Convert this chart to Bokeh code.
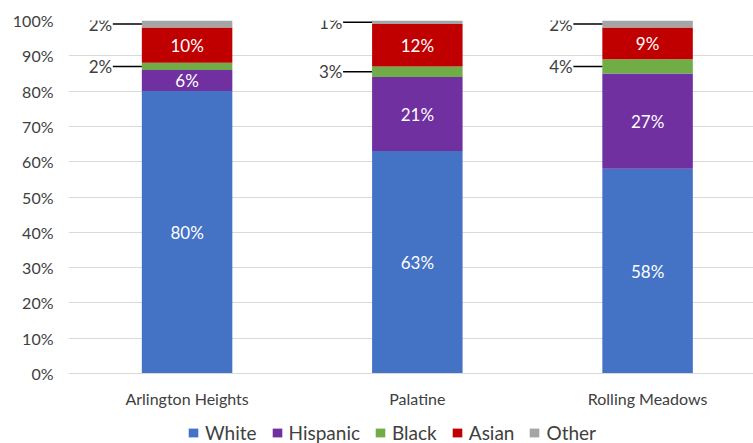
from bokeh.plotting import figure
from bokeh.models import (ColumnDataSource, Range1d, FixedTicker, Legend, LegendItem)
from bokeh.core.properties import value
from bokeh.embed import file_html
from bokeh.resources import INLINE

# Population share by race/ethnicity (%)
cities = ["Arlington Heights", "Palatine", "Rolling Meadows"]
groups = ["White", "Hispanic", "Black", "Asian", "Other"]
white = [80, 63, 58]
hispanic = [6, 21, 27]
black = [2, 3, 4]
asian = [10, 12, 9]
other = [2, 1, 2]
colors = ["#4472C4", "#7030A0", "#70AD47", "#C00000", "#A5A5A5"]
y_ticks = list(range(0, 101, 10))

FONT = "Lato"
TXT = "#404040"
BAR_W = 0.393
LEAD = 0.126

xs = list(range(len(cities)))
series = [white, hispanic, black, asian, other]
src = ColumnDataSource(dict(x=xs, **{g: v for g, v in zip(groups, series)}))

# the frame runs to the bottom edge; the space under 0% holds city names and legend
p = figure(width=753, height=443, output_backend="svg", toolbar_location=None,
           x_range=Range1d(-0.515, 2.46), y_range=Range1d(-19.83, 100),
           min_border_left=68, min_border_right=0, min_border_top=20,
           min_border_bottom=0, outline_line_color=None, x_axis_location=None)

renderers = p.vbar_stack(groups, x="x", width=BAR_W, color=colors, source=src,
                         line_color=None)

# segment labels: large ones inside, small ones to the left with leader lines
in_x, in_y, in_t = [], [], []
out_x, out_y, out_t, l_x0, l_x1 = [], [], [], [], []
for i in xs:
    base = 0
    for g, vals in zip(groups, series):
        v = vals[i]
        mid = base + v / 2
        if v >= 5:
            in_x.append(i); in_y.append(mid); in_t.append(f"{v}%")
        else:
            out_x.append(i - BAR_W / 2 - LEAD - 0.003); out_y.append(mid); out_t.append(f"{v}%")
            l_x0.append(i - BAR_W / 2 - LEAD); l_x1.append(i - BAR_W / 2)
        base += v

p.text(x=in_x, y=in_y, text=in_t, text_color="white", text_align="center",
       text_baseline="middle", text_font=value(FONT), text_font_size="17px")
p.segment(x0=l_x0, x1=l_x1, y0=out_y, y1=out_y, line_color="black", line_width=1.5)
p.text(x=out_x, y=out_y, text=out_t, text_color=TXT, text_align="right",
       text_baseline="middle", text_font=value(FONT), text_font_size="17px")

# category axis line at 0% and city names underneath
p.hspan(y=[0], line_color="#D9D9D9", line_width=1)
p.text(x=xs, y=[-7.1] * len(xs), text=cities, text_color=TXT, text_align="center",
       text_baseline="middle", text_font=value(FONT), text_font_size="16px")

# value axis
p.xgrid.visible = False
p.ygrid.grid_line_color = "#D9D9D9"
p.ygrid.ticker = FixedTicker(ticks=y_ticks[1:])
p.yaxis.ticker = FixedTicker(ticks=y_ticks)
p.yaxis.major_label_overrides = {t: f"{t}%" for t in y_ticks}
p.yaxis.axis_line_color = None
p.yaxis.major_label_standoff = 15
p.yaxis.major_tick_line_color = None
p.yaxis.minor_tick_line_color = None
p.yaxis.major_tick_out = 0
p.yaxis.major_tick_in = 0
p.yaxis.minor_tick_out = 0
p.yaxis.major_label_text_font = FONT
p.yaxis.major_label_text_font_size = "16px"
p.yaxis.major_label_text_color = TXT

legend = Legend(items=[LegendItem(label=g, renderers=[r]) for g, r in zip(groups, renderers)],
                orientation="horizontal", location=(119, -1),
                label_text_font=FONT, label_text_font_size="19px", label_text_color=TXT,
                glyph_width=12, glyph_height=11, label_standoff=6, spacing=14,
                label_height=20, padding=0, margin=0, border_line_color=None,
                background_fill_alpha=0)
p.add_layout(legend, "center")

open("out.html", "w").write(file_html(p, INLINE))
